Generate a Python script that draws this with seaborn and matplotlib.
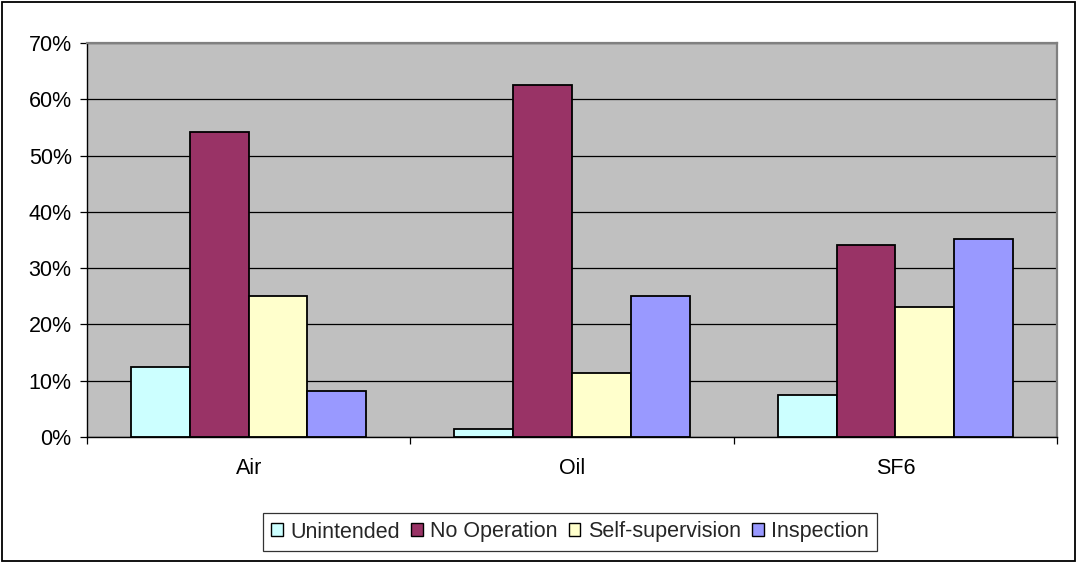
import matplotlib
matplotlib.use("Agg")
import matplotlib.pyplot as plt
import seaborn as sns
import pandas as pd
import numpy as np
from matplotlib.patches import Rectangle, Patch
from matplotlib.ticker import PercentFormatter, FixedLocator

categories = ["Air", "Oil", "SF6"]
series = ["Unintended", "No Operation", "Self-supervision", "Inspection"]
unintended = [12.5, 1.4, 7.4]
no_operation = [54.2, 62.6, 34.1]
self_supervision = [25.0, 11.4, 23.1]
inspection = [8.1, 25.0, 35.2]
colors = ["#CCFFFF", "#993366", "#FFFFCC", "#9999FF"]
yticks = [0, 10, 20, 30, 40, 50, 60, 70]

rows = []
for name, vals in zip(series, [unintended, no_operation, self_supervision, inspection]):
    for c, v in zip(categories, vals):
        rows.append({"cat": c, "series": name, "value": v})
df = pd.DataFrame(rows)

sns.set_theme(style="white")
plt.rcParams["font.family"] = ["Liberation Sans", "DejaVu Sans"]

FS = 15.5

fig = plt.figure(figsize=(10.77, 5.63), dpi=100)
ax = fig.add_axes([87/1077, 1-437/563, (1057-87)/1077, (437-43)/563])
ax.set_facecolor("#C0C0C0")
ax.set_axisbelow(True)

sns.barplot(data=df, x="cat", y="value", hue="series", hue_order=series,
            order=categories, palette=colors, saturation=1, width=4/5.5, gap=0,
            edgecolor="black", linewidth=1.3, ax=ax, legend=False)

ax.set_ylim(0, 70)
ax.set_xlim(-0.5, 2.5)
ax.yaxis.set_major_locator(FixedLocator(yticks))
ax.yaxis.set_major_formatter(PercentFormatter(decimals=0))
ax.grid(axis="y", color="black", linewidth=0.9)
ax.grid(axis="x", visible=False)
ax.set_xlabel("")
ax.set_ylabel("")

ax.tick_params(axis="y", which="major", length=5, width=0.9, color="black",
               direction="out", left=True, pad=6, labelsize=FS, labelcolor="black")
ax.tick_params(axis="x", which="major", length=0, pad=15, labelsize=FS, labelcolor="black")
ax.set_xticks([-0.5, 0.5, 1.5, 2.5], minor=True)
ax.tick_params(axis="x", which="minor", length=5, width=0.9, color="black",
               direction="out", bottom=True)

for s in ["left", "bottom"]:
    ax.spines[s].set_color("black")
    ax.spines[s].set_linewidth(1.0)
for s in ["top", "right"]:
    ax.spines[s].set_color("#808080")
    ax.spines[s].set_linewidth(1.6)

handles = [Patch(facecolor=c, edgecolor="black", linewidth=1.0, label=s)
           for c, s in zip(colors, series)]
leg = fig.legend(handles=handles, loc="center", bbox_to_anchor=(570/1077, 1-532/563),
                 ncol=4, fontsize=FS, frameon=True, fancybox=False,
                 handlelength=0.55, handleheight=0.55, handletextpad=0.35,
                 columnspacing=0.5, borderpad=0.4, borderaxespad=0)
leg.get_frame().set_edgecolor("black")
leg.get_frame().set_linewidth(0.9)

fig.patches.append(Rectangle((2/1077, 2/563), 1073/1077, 559/563, transform=fig.transFigure,
                             fill=False, edgecolor="black", linewidth=1.3))

fig.savefig("out.png", dpi=100, facecolor="white")
